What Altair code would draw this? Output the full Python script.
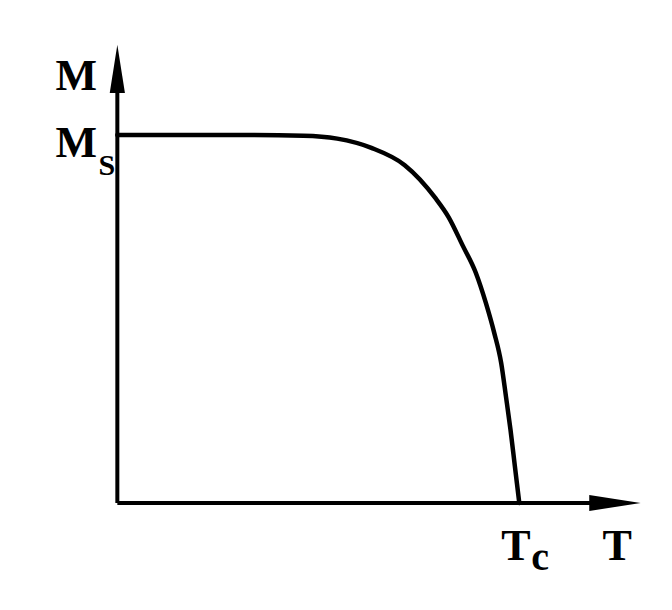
import altair as alt
import pandas as pd

# Magnetization curve M(T)/Ms vs T/Tc
curve_T = [0.0, 0.3, 0.463, 0.547, 0.632, 0.715, 0.791, 0.824, 0.859, 0.892, 0.917, 0.937, 0.955, 0.967, 0.978, 0.989, 1.0]
curve_M = [1.0, 1.0, 0.998, 0.990, 0.965, 0.918, 0.829, 0.777, 0.700, 0.625, 0.543, 0.465, 0.380, 0.288, 0.200, 0.100, 0.0]

# axes (drawn as lines ending in arrows)
xaxis_T = [0.0, 1.25]
xaxis_M = [0.0, 0.0]
yaxis_T = [0.0, 0.0]
yaxis_M = [0.0, 1.18]
xarrow_T = [1.174, 1.302]
xarrow_lo = [-0.0217, 0.0]
xarrow_hi = [0.0217, 0.0]
yarrow_M = [1.114, 1.245]
yarrow_lo = [-0.0189, 0.0]
yarrow_hi = [0.0189, 0.0]

# labels
label_text = ["M", "M", "S", "T", "c", "T"]
label_T = [-0.1537, -0.1537, -0.047, 0.955, 1.030, 1.207]
label_M = [1.122, 0.940, 0.891, -0.155, -0.182, -0.155]
label_size = [44, 44, 30, 44, 40, 44]

xs = alt.Scale(domain=[-0.272, 1.360], nice=False, zero=False)
ys = alt.Scale(domain=[-0.269, 1.345], nice=False, zero=False)

curve = alt.Chart(pd.DataFrame({"T": curve_T, "M": curve_M})).mark_line(
    color="black", strokeWidth=4.5, interpolate="monotone", strokeCap="round"
).encode(x=alt.X("T:Q", scale=xs, axis=None), y=alt.Y("M:Q", scale=ys, axis=None))

xaxis = alt.Chart(pd.DataFrame({"T": xaxis_T, "M": xaxis_M})).mark_line(
    color="black", strokeWidth=4
).encode(x=alt.X("T:Q", scale=xs, axis=None), y=alt.Y("M:Q", scale=ys, axis=None))

yaxis = alt.Chart(pd.DataFrame({"T": yaxis_T, "M": yaxis_M})).mark_line(
    color="black", strokeWidth=4
).encode(x=alt.X("T:Q", scale=xs, axis=None), y=alt.Y("M:Q", scale=ys, axis=None))

xarrow = alt.Chart(pd.DataFrame({"T": xarrow_T, "lo": xarrow_lo, "hi": xarrow_hi})).mark_area(
    color="black", orient="vertical"
).encode(x=alt.X("T:Q", scale=xs, axis=None), y=alt.Y("lo:Q", scale=ys, axis=None), y2="hi:Q")

yarrow = alt.Chart(pd.DataFrame({"M": yarrow_M, "lo": yarrow_lo, "hi": yarrow_hi})).mark_area(
    color="black", orient="horizontal"
).encode(y=alt.Y("M:Q", scale=ys, axis=None), x=alt.X("lo:Q", scale=xs, axis=None), x2="hi:Q")

labels = alt.Chart(pd.DataFrame({"t": label_text, "T": label_T, "M": label_M, "s": label_size})).mark_text(
    font="Liberation Serif", fontWeight="bold", align="left", baseline="alphabetic", color="black"
).encode(
    x=alt.X("T:Q", scale=xs, axis=None),
    y=alt.Y("M:Q", scale=ys, axis=None),
    text="t:N",
    size=alt.Size("s:Q", scale=None, legend=None),
)

chart = alt.layer(xaxis, yaxis, xarrow, yarrow, curve, labels).properties(
    width=656, height=594, padding=0, autosize=alt.AutoSizeParams(type="none")
).configure_view(stroke=None)

chart.save("out.html", embed_options={"renderer": "svg", "actions": False})
